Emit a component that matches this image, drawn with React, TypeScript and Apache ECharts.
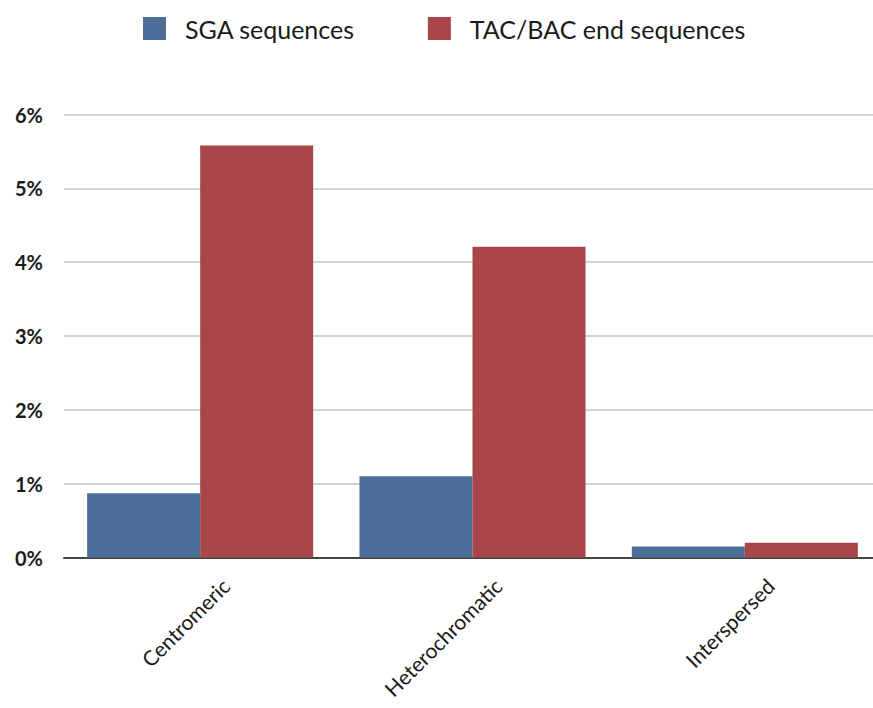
import React, { useEffect, useRef } from "react";
import * as echarts from "echarts";

const categories = ["Centromeric", "Heterochromatic", "Interspersed"];
const sgaValues = [0.87, 1.1, 0.15];
const tacBacValues = [5.58, 4.21, 0.2];
const seriesNames = ["SGA sequences", "TAC/BAC end sequences"];
const yTicks = [0, 1, 2, 3, 4, 5, 6];

const FONT = "Lato, 'Open Sans', sans-serif";

export default function App() {
  const ref = useRef<HTMLDivElement>(null);
  useEffect(() => {
    if (!ref.current) return;
    const chart = echarts.init(ref.current, undefined, { renderer: "svg" });
    chart.setOption({
      animation: false,
      backgroundColor: "#ffffff",
      textStyle: { fontFamily: FONT },
      legend: {
        top: 11,
        left: 138,
        itemWidth: 23,
        itemHeight: 23,
        itemGap: 73,
        icon: "rect",
        textStyle: {
          fontSize: 25,
          color: "#1a1a1a",
          fontFamily: FONT,
          padding: [0, 0, 0, 14],
        },
        data: seriesNames,
      },
      grid: {
        left: 64,
        width: 817,
        top: 114.5,
        bottom: 150.5,
        containLabel: false,
        outerBoundsMode: "none",
      },
      xAxis: {
        type: "category",
        data: categories,
        axisLine: { show: true, lineStyle: { color: "#444", width: 2 } },
        axisTick: { show: false },
        axisLabel: {
          rotate: 45,
          margin: 50,
          fontSize: 21,
          color: "#1a1a1a",
          fontFamily: FONT,
          padding: [0, -36, 0, 0],
        },
      },
      yAxis: {
        type: "value",
        min: yTicks[0],
        max: yTicks[yTicks.length - 1],
        interval: 1,
        axisLine: { show: false },
        axisTick: { show: false },
        splitLine: { lineStyle: { color: "#c4c4c4", width: 1.5 } },
        axisLabel: {
          margin: 21,
          fontSize: 20,
          fontWeight: "bold",
          color: "#1a1a1a",
          fontFamily: FONT,
          formatter: (v: number) => `${v}%`,
        },
      },
      series: [
        {
          name: seriesNames[0],
          type: "bar",
          data: sgaValues,
          barGap: "0%",
          barCategoryGap: "17%",
          itemStyle: { color: "#4b6d97" },
        },
        {
          name: seriesNames[1],
          type: "bar",
          data: tacBacValues,
          barGap: "0%",
          barCategoryGap: "17%",
          itemStyle: { color: "#a8464a" },
        },
      ],
    });
    return () => chart.dispose();
  }, []);
  return (
    <div
      ref={ref}
      style={{ position: "fixed", left: 0, top: 0, width: 873, height: 708 }}
    />
  );
}
